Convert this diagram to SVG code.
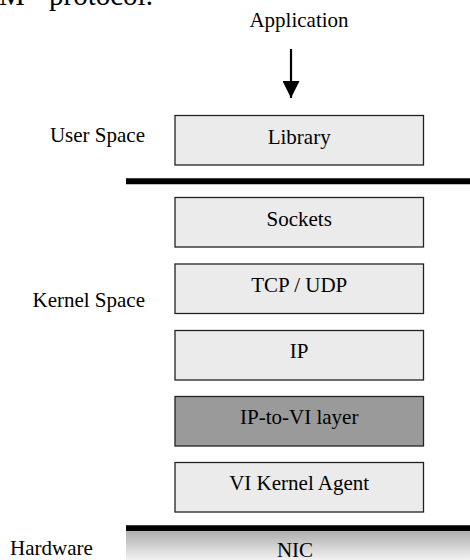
<svg xmlns="http://www.w3.org/2000/svg" width="470" height="560" viewBox="0 0 470 560">
<style>
text{font-family:"Liberation Serif","Times New Roman",serif;fill:#000;}
.lbl{font-size:21px;text-anchor:middle;}
.side{font-size:21px;}
.box{fill:#ebebeb;stroke:#222;stroke-width:1.3;}
.dark{fill:#9a9a9a;stroke:#222;stroke-width:1.3;}
.bar{stroke:#000;stroke-width:6;}
</style>
<defs>
<linearGradient id="nicg" x1="0" y1="0" x2="0" y2="1">
<stop offset="0" stop-color="#aeaeae"/>
<stop offset="1" stop-color="#f2f2f2"/>
</linearGradient>
<marker id="ah" markerWidth="17" markerHeight="17" viewBox="0 0 17 17" refX="17" refY="8.5" orient="auto" markerUnits="userSpaceOnUse">
<path d="M0,0 L17,8.5 L0,17 Z" fill="#000"/>
</marker>
</defs>
<text x="-1" y="5" font-size="29"><tspan x="-1">M</tspan><tspan x="49">protocol.</tspan></text>
<g id="application"><text class="lbl" x="299" y="27">Application</text></g>
<g id="connectors">
<line x1="291" y1="49" x2="291" y2="98" stroke="#000" stroke-width="2.2" marker-end="url(#ah)"/>
</g>
<g id="labels">
<text class="side" x="145" y="142" text-anchor="end">User Space</text>
<text class="side" x="145" y="307" text-anchor="end">Kernel Space</text>
<text class="side" x="10" y="555">Hardware</text>
</g>
<g id="dividers">
<line class="bar" x1="126" y1="181.3" x2="470" y2="181.3"/>
<line class="bar" x1="126" y1="528.3" x2="470" y2="528.3"/>
</g>
<g id="library"><rect class="box" x="175" y="115.5" width="248.5" height="49.5"/><text class="lbl" x="299.2" y="143.5">Library</text></g>
<g id="sockets"><rect class="box" x="175" y="197.5" width="248.5" height="49.5"/><text class="lbl" x="299.2" y="225.7">Sockets</text></g>
<g id="tcpudp"><rect class="box" x="175" y="264" width="248.5" height="49.5"/><text class="lbl" x="299.2" y="291.8">TCP / UDP</text></g>
<g id="ip"><rect class="box" x="175" y="330.5" width="248.5" height="49.5"/><text class="lbl" x="299.2" y="358.3">IP</text></g>
<g id="iptovi"><rect class="dark" x="175" y="396.5" width="248.5" height="49.5"/><text class="lbl" x="299.2" y="423.8">IP-to-VI layer</text></g>
<g id="vikernel"><rect class="box" x="175" y="462.5" width="248.5" height="49.5"/><text class="lbl" x="299.2" y="490.3">VI Kernel Agent</text></g>
<g id="nic"><rect x="126" y="531.3" width="344" height="28.7" fill="url(#nicg)"/><text class="lbl" x="295" y="556.5">NIC</text></g>
</svg>
